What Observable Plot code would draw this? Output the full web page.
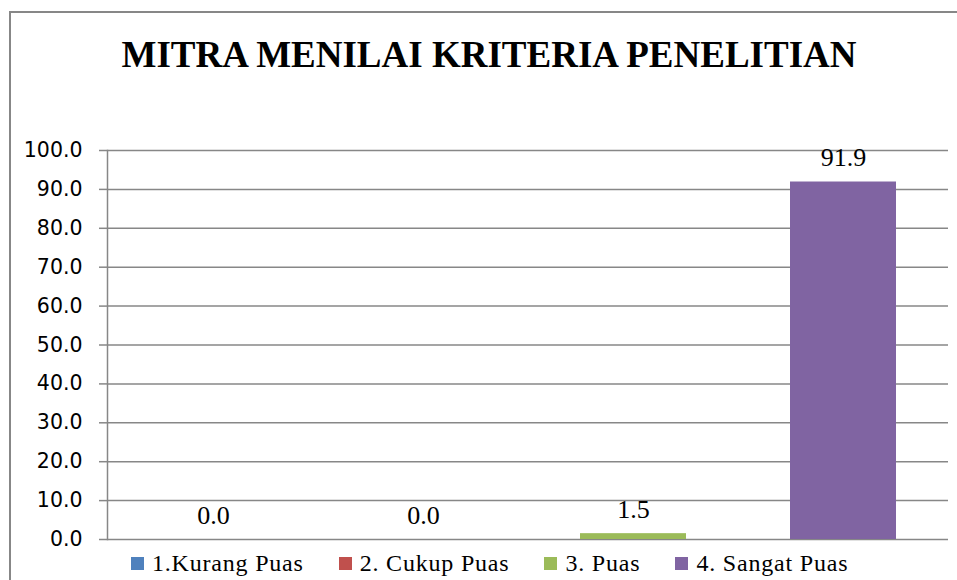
<!DOCTYPE html>
<html>
<head>
<meta charset="utf-8">
<script src="https://cdn.jsdelivr.net/npm/d3@7"></script>
<script src="https://cdn.jsdelivr.net/npm/@observablehq/plot@0.6"></script>
<style>
  html, body { margin: 0; padding: 0; background: #fff; }
  #wrap { position: relative; width: 957px; height: 580px; overflow: hidden; background: #fff; }
  #border { position: absolute; left: 9px; top: 11px; width: 2000px; height: 2000px; border: 2px solid #878787; box-sizing: border-box; }
  #title { position: absolute; left: 0; top: 36px; width: 978px; text-align: center;
           font-family: "Liberation Serif", "Times New Roman", serif; font-weight: bold; font-size: 37px; line-height: 37px; color: #000; }
  #chart { position: absolute; left: 0; top: 0; }
  #chart svg { overflow: visible; }
  g[aria-label="y-axis tick"] { stroke: #878787; }
  g[aria-label="text"] text { font-family: "Liberation Serif", "Times New Roman", serif !important; }
  #legend { position: absolute; left: 131px; top: 551px; display: flex; align-items: center; gap: 35px;
            font-family: "Liberation Serif", "Times New Roman", serif; font-size: 24px; line-height: 24px; letter-spacing: 0.8px; color: #000; white-space: nowrap; }
  .item { display: flex; align-items: center; }
  .sw { width: 13px; height: 13px; margin-right: 8px; }
</style>
</head>
<body>
<div id="wrap">
  <div id="border"></div>
  <div id="title"></div>
  <div id="chart"></div>
  <div id="legend"></div>
</div>
<script>
const title = "MITRA MENILAI KRITERIA PENELITIAN";
const categories = ["1.Kurang Puas", "2. Cukup Puas", "3. Puas", "4. Sangat Puas"];
const values = [0.0, 0.0, 1.5, 91.9];
const colors = ["#4F81BD", "#C0504D", "#9BBB59", "#8064A2"];
const yTicks = [0, 10, 20, 30, 40, 50, 60, 70, 80, 90, 100];

const data = categories.map((c, i) => ({cat: c, val: values[i], color: colors[i]}));

document.getElementById("title").textContent = title;

const chart = Plot.plot({
  width: 957,
  height: 580,
  marginLeft: 107,
  marginRight: 9,
  marginTop: 150,
  marginBottom: 41,
  style: {fontFamily: "DejaVu Sans, sans-serif", fontSize: "20.5px", color: "#000", background: "transparent"},
  x: {domain: categories, padding: 0, axis: null},
  y: {domain: [0, 100], axis: null},
  marks: [
    Plot.gridY(yTicks, {stroke: "#878787", strokeOpacity: 1, strokeWidth: 1.5}),
    Plot.barY(data, {x: "cat", y: "val", fill: "color", insetLeft: 52, insetRight: 52}),
    Plot.frame({anchor: "left", stroke: "#878787", strokeWidth: 1.5}),
    Plot.axisY(yTicks, {label: null, tickSize: 8, tickPadding: 17, tickFormat: d3.format(".1f"), strokeWidth: 1.5, fontSize: 20.5, fontFamily: "DejaVu Sans"}),
    Plot.text(data, {x: "cat", y: "val", text: d => d.val.toFixed(1), dy: -24, fontSize: 26, fontFamily: "Liberation Serif", fill: "#000"})
  ]
});
document.getElementById("chart").appendChild(chart);

const legend = document.getElementById("legend");
categories.forEach((c, i) => {
  const item = document.createElement("div");
  item.className = "item";
  const sw = document.createElement("span");
  sw.className = "sw";
  sw.style.background = colors[i];
  const t = document.createElement("span");
  t.textContent = c;
  item.appendChild(sw);
  item.appendChild(t);
  legend.appendChild(item);
});
</script>
</body>
</html>
